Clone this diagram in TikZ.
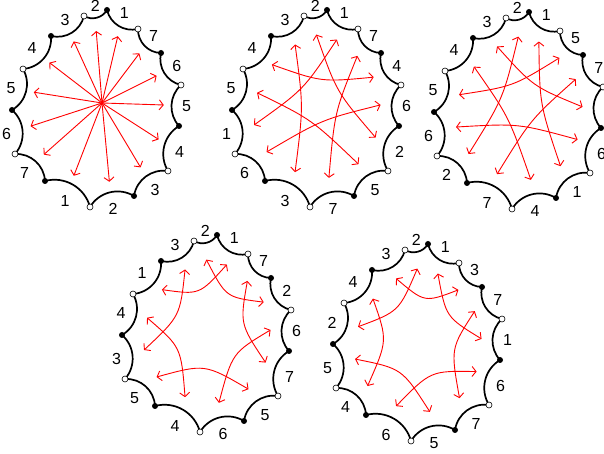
\documentclass[tikz,border=0pt]{standalone}
\usepackage{fontspec}
\setsansfont{Liberation Sans}
\usetikzlibrary{arrows.meta, calc}

\tikzset{
    rim/.style={draw=black, line width=1.7pt, line cap=round},
    seam/.style={bend right=45},
    fullpt/.style={circle, fill=black, inner sep=0pt, minimum size=6pt},
    hollowpt/.style={circle, draw=black, fill=white, line width=0.6pt, inner sep=0pt, minimum size=6pt},
    tag/.style={font=\fontsize{16}{16}\selectfont\sffamily, inner sep=0pt},
    glue/.style={draw=red, line width=0.9pt,
        {Straight Barb[length=4pt,width=10pt]}-{Straight Barb[length=4pt,width=10pt]}},
    spoke/.style={draw=red, line width=0.9pt, -{Straight Barb[length=4pt,width=10pt]}},
}

% corners of one disc, relative to its centre, from the top corner clockwise
\def\cornerlist{1/8/93, 2/39/74, 3/62/50, 4/82/18, 5/80/-23, 6/69/-68, 7/35/-93,
    8/-9/-104, 9/-54/-78, 10/-84/-51, 11/-87/-7, 12/-76/34, 13/-48/67, 14/-15/87}

% \disc{name}{centre}{edge labels, edge k runs from corner k to corner k+1}
\newcommand{\disc}[3]{%
    \coordinate (#1) at (#2);
    \foreach \k/\dx/\dy in \cornerlist
        \coordinate (#1-\k) at ($(#1)+(\dx,\dy)$);
    \foreach \k [evaluate=\k as \n using {int(mod(\k,14)+1)}] in {1,...,14} {
        \draw[rim] (#1-\k) to[seam] (#1-\n);
        \coordinate (#1-m\k) at ($(#1-\k)!0.5!(#1-\n)$);
        \coordinate (#1-e\k) at ($(#1)!0.76!(#1-m\k)$);
    }
    \foreach \lab [count=\k] in {#3}
        \node[tag] (#1-t\k) at ($(#1)!1.08!(#1-m\k)$) {\lab};
    \foreach \k in {1,3,...,13}
        \node[fullpt] (#1-d\k) at (#1-\k) {};
    \foreach \k in {2,4,...,14}
        \node[hollowpt] (#1-d\k) at (#1-\k) {};
}

\begin{document}
\begin{tikzpicture}[x=1pt, y=1pt]
    \useasboundingbox (0,0) rectangle (604,454);

    % top row
    \disc{a}{99,351}{1,7,6,5,4,3,2,1,7,6,5,4,3,2}
    \disc{b}{319,351}{1,7,4,6,2,5,7,3,6,1,5,4,3,2}
    \disc{c}{521,349}{1,5,7,3,6,1,4,7,2,6,5,4,3,2}
    % bottom row
    \disc{d}{209,126}{1,7,2,6,7,5,6,4,5,3,4,1,3,2}
    \disc{e}{420,117}{1,3,7,1,6,7,5,6,4,5,2,4,3,2}

    % first disc: every edge from one point
    \coordinate (a-hub) at ($(a)+(3,0)$);
    \foreach \k in {1,...,14}
        \draw[spoke] (a-hub) -- ($(a)!0.8!(a-m\k)$);

    % the other discs: edges with the same label are glued
    \foreach \i/\j in {14/5, 1/10, 2/7, 3/12, 4/9, 6/11, 8/13}
        \draw[glue] (b-e\i) .. controls ($(b-e\i)!0.5!(b-e\j)!0.35!(b)$) .. (b-e\j);
    \foreach \i/\j in {14/9, 1/6, 2/11, 3/8, 4/13, 5/10, 7/12}
        \draw[glue] (c-e\i) .. controls ($(c-e\i)!0.5!(c-e\j)!0.35!(c)$) .. (c-e\j);
    \foreach \i/\j in {14/3, 1/12, 2/5, 4/7, 6/9, 8/11, 10/13}
        \draw[glue] (d-e\i) .. controls ($(d-e\i)!0.5!(d-e\j)!0.35!(d)$) .. (d-e\j);
    \foreach \i/\j in {14/11, 1/4, 2/13, 3/6, 5/8, 7/10, 9/12}
        \draw[glue] (e-e\i) .. controls ($(e-e\i)!0.5!(e-e\j)!0.35!(e)$) .. (e-e\j);
\end{tikzpicture}
\end{document}
